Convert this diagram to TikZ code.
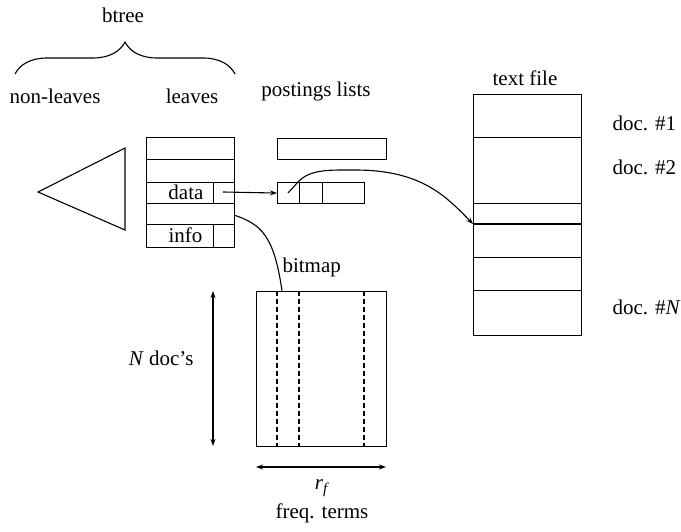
\documentclass[tikz,border=0pt]{standalone}
\usepackage{fontspec}
\setmainfont{Liberation Serif}
\usetikzlibrary{arrows.meta,decorations.pathreplacing}
\begin{document}
\begin{tikzpicture}[x=1pt,y=-1pt,line width=1.1pt,
  lbl/.style={font=\fontsize{21}{24}\selectfont,inner sep=0pt},
  cell/.style={draw,inner sep=0pt,anchor=north west},
  arr/.style={-{Stealth[length=7pt,width=5pt]}},
  dbl/.style={{Stealth[length=7pt,width=5pt]}-{Stealth[length=7pt,width=5pt]}}]
\useasboundingbox (0,0) rectangle (681,532);
% brace and labels
\draw[decorate,decoration={brace,amplitude=32pt}] (15,74) -- (235,74);
\node[lbl] (btree) at (123,15) {btree};
\node[lbl] (nonleaves) at (55,96) {non-leaves};
\node[lbl] (leaveslbl) at (192,96) {leaves};
\node[lbl] (postlbl) at (316,91) {postings lists};
\node[lbl] (tflbl) at (525,78) {text file};
% non-leaves triangle
\draw (38,192) -- (125,148) -- (125,230) -- cycle;
% leaves block
\node[cell,minimum width=88pt,minimum height=22pt] (l1) at (146,137) {};
\node[cell,minimum width=88pt,minimum height=23pt] (l2) at (146,159) {};
\node[cell,minimum width=67pt,minimum height=21pt] (data) at (146,182) {};
\node[cell,minimum width=21pt,minimum height=21pt] (dptr) at (213,182) {};
\node[cell,minimum width=88pt,minimum height=21pt] (l4) at (146,203) {};
\node[cell,minimum width=67pt,minimum height=23pt] (info) at (146,224) {};
\node[cell,minimum width=21pt,minimum height=23pt] (iptr) at (213,224) {};
\node[lbl,anchor=east] (datalbl) at (204,192) {data};
\node[lbl,anchor=east] (infolbl) at (203,235) {info};
% postings lists
\node[cell,minimum width=109pt,minimum height=21pt] (p1) at (277,138) {};
\node[cell,minimum width=22pt,minimum height=21pt] (c1) at (277,182) {};
\node[cell,minimum width=23pt,minimum height=21pt] (c2) at (299,182) {};
\node[cell,minimum width=42pt,minimum height=21pt] (c3) at (322,182) {};
% text file
\node[cell,minimum width=108pt,minimum height=43pt] (t1) at (473,94) {};
\node[cell,minimum width=108pt,minimum height=66pt] (t2) at (473,137) {};
\node[cell,minimum width=108pt,minimum height=21pt] (t3) at (473,203) {};
\node[cell,minimum width=108pt,minimum height=33pt] (t4) at (473,224) {};
\node[cell,minimum width=108pt,minimum height=33pt] (t5) at (473,257) {};
\node[cell,minimum width=108pt,minimum height=45pt] (t6) at (473,290) {};
\draw[line width=2pt] (t4.north west) -- (t4.north east);
\node[lbl,anchor=west] (d1) at (612,123) {doc. \#1};
\node[lbl,anchor=west] (d2) at (612,167) {doc. \#2};
\node[lbl,anchor=west] (dN) at (612,307) {doc. \#\textit{N}};
% bitmap
\node[cell,minimum width=130pt,minimum height=155pt] (bm) at (256,291) {};
\draw[dashed,dash pattern=on 5pt off 3pt] (277,291) -- (277,446);
\draw[dashed,dash pattern=on 5pt off 3pt] (299,291) -- (299,446);
\draw[dashed,dash pattern=on 5pt off 3pt] (364,291) -- (364,446);
\coordinate (bmin) at (282,291);
\node[lbl,anchor=west] (bmlbl) at (282,267) {bitmap};
% dimension arrows
\coordinate (va) at (213,291);
\coordinate (vb) at (213,446);
\draw[dbl] (va) -- (vb);
\node[lbl,anchor=east] (ndocs) at (194,358) {\textit{N} doc's};
\coordinate (ha) at (256,467);
\coordinate (hb) at (386,467);
\draw[dbl] (ha) -- (hb);
\node[lbl] (rf) at (322,488) {\textit{r}\raisebox{-0.45ex}{\fontsize{15}{15}\selectfont\textit{f}}};
\node[lbl] (freq) at (322,513) {freq. terms};
% connectors
\coordinate (dstart) at (223,192);
\draw[arr] (dstart) -- (c1.west);
\coordinate (cstart) at (288,193);
\draw[arr] (cstart) -- (298,182) .. controls (310,169) and (330,170) .. (355,170)
  .. controls (420,170) and (445,195) .. (t4.north west);
\coordinate (lstart) at (234,215);
\draw (lstart) .. controls (260,224) and (274,234) .. (bmin);
\end{tikzpicture}
\end{document}
